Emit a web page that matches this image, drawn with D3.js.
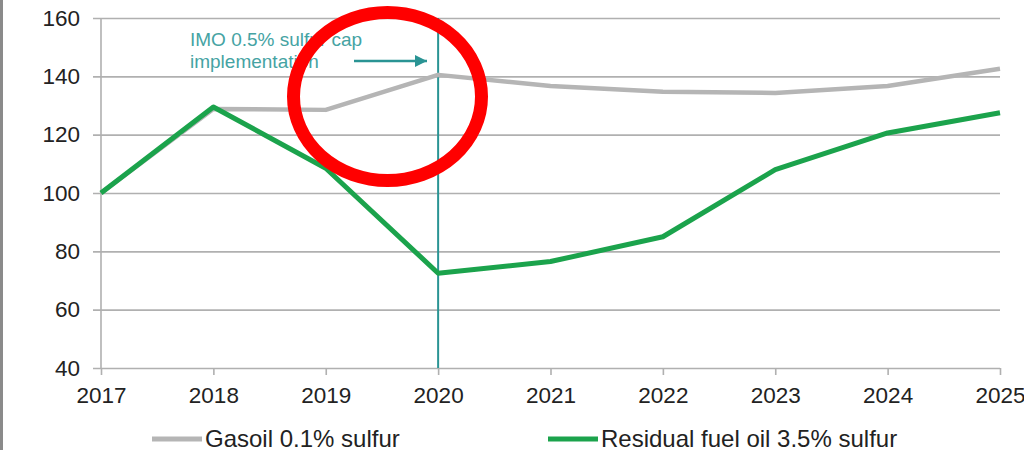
<!DOCTYPE html>
<html>
<head>
<meta charset="utf-8">
<script src="https://cdn.jsdelivr.net/npm/d3@7"></script>
<style>
  html, body { margin: 0; padding: 0; background: #fff; }
  svg { display: block; font-family: "Liberation Sans", Arial, sans-serif; }
</style>
</head>
<body>
<svg id="chart" width="1024" height="450"></svg>
<script>
const years = [2017, 2018, 2019, 2020, 2021, 2022, 2023, 2024, 2025];
const gasoil = [100, 128.8, 128.5, 140.5, 136.7, 134.7, 134.3, 136.7, 142.6];
const residual = [100, 129.5, 108.5, 72.5, 76.5, 85, 108, 120.6, 127.5];
const yTicks = [40, 60, 80, 100, 120, 140, 160];
const seriesNames = ["Gasoil 0.1% sulfur", "Residual fuel oil 3.5% sulfur"];
const annotationLines = ["IMO 0.5% sulfur cap", "implementation"];
const capYear = 2020;

const svg = d3.select("#chart");
const x = d3.scaleLinear().domain([2017, 2025]).range([101, 1000]);
const y = d3.scaleLinear().domain([40, 160]).range([368, 18]);

// left frame bar
svg.append("rect").attr("x", 0).attr("y", 0).attr("width", 3).attr("height", 450).attr("fill", "#8a8a8a");

// gridlines + y labels
const yAxis = d3.axisLeft(y).tickValues(yTicks).tickSize(-(1000 - 93)).tickPadding(13).tickFormat(d3.format("d"));
const gy = svg.append("g").attr("transform", "translate(93,0)").call(yAxis);
gy.select(".domain").remove();
gy.selectAll(".tick line").attr("stroke", "#b0b0b0").attr("stroke-width", 1.6);
gy.selectAll(".tick text").attr("fill", "#222").attr("font-size", "22.5px")
  .attr("font-family", "Liberation Sans, Arial, sans-serif").attr("x", -13);

// y axis vertical line
svg.append("line").attr("x1", x(2017)).attr("x2", x(2017)).attr("y1", y(160)).attr("y2", y(40))
  .attr("stroke", "#b0b0b0").attr("stroke-width", 1.6);

// x axis
const xAxis = d3.axisBottom(x).tickValues(years).tickSize(7).tickPadding(12).tickFormat(d3.format("d"));
const gx = svg.append("g").attr("transform", `translate(0,${y(40)})`).call(xAxis);
gx.select(".domain").remove();
gx.selectAll(".tick line").attr("stroke", "#b0b0b0").attr("stroke-width", 1.6);
gx.selectAll(".tick text").attr("fill", "#222").attr("font-size", "22.5px")
  .attr("font-family", "Liberation Sans, Arial, sans-serif");

// cap implementation vertical line
const teal = "#2a9494";
svg.append("line").attr("x1", x(capYear)).attr("x2", x(capYear)).attr("y1", y(160)).attr("y2", y(40))
  .attr("stroke", teal).attr("stroke-width", 2);

// lines
const line = d3.line().x((d, i) => x(years[i])).y(d => y(d));
svg.append("path").datum(gasoil).attr("d", line).attr("fill", "none")
  .attr("stroke", "#b5b5b5").attr("stroke-width", 4.5).attr("stroke-linejoin", "round");
svg.append("path").datum(residual).attr("d", line).attr("fill", "none")
  .attr("stroke", "#1ba34c").attr("stroke-width", 5).attr("stroke-linejoin", "round");

// annotation text
const ann = svg.append("text").attr("fill", "#45a3a3").attr("font-size", "19px")
  .attr("font-family", "Liberation Sans, Arial, sans-serif");
annotationLines.forEach((t, i) => {
  ann.append("tspan").attr("x", 190).attr("y", 46 + i * 22).text(t);
});

// arrow
const defs = svg.append("defs");
defs.append("marker").attr("id", "arrow").attr("viewBox", "0 0 10 10").attr("refX", 10).attr("refY", 5)
  .attr("markerWidth", 5).attr("markerHeight", 5).attr("markerUnits", "strokeWidth").attr("orient", "auto")
  .append("path").attr("d", "M0,0 L10,5 L0,10 Z").attr("fill", teal);
svg.append("line").attr("x1", 354).attr("x2", 427).attr("y1", 61).attr("y2", 61)
  .attr("stroke", teal).attr("stroke-width", 2.4).attr("marker-end", "url(#arrow)");

// legend
const legColors = ["#b5b5b5", "#1ba34c"];
const legX = [152, 548];
seriesNames.forEach((n, i) => {
  svg.append("line").attr("x1", legX[i]).attr("x2", legX[i] + 50).attr("y1", 439).attr("y2", 439)
    .attr("stroke", legColors[i]).attr("stroke-width", 5);
  svg.append("text").attr("x", legX[i] + 53).attr("y", 447).attr("fill", "#222")
    .attr("font-size", "24px").attr("font-family", "Liberation Sans, Arial, sans-serif").text(n);
});

// red circle highlight
svg.append("ellipse").attr("cx", 387.5).attr("cy", 96.5).attr("rx", 94).attr("ry", 84)
  .attr("fill", "none").attr("stroke", "#ff0000").attr("stroke-width", 13);
</script>
</body>
</html>
